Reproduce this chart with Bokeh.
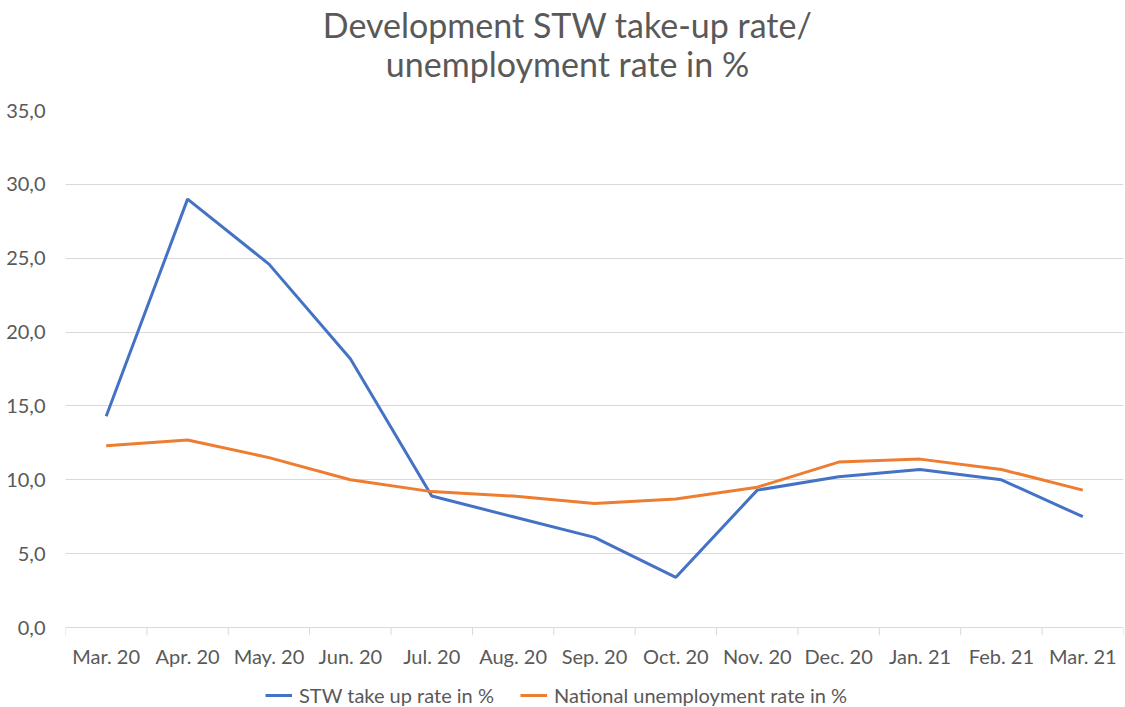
from bokeh.plotting import figure
from bokeh.layouts import column
from bokeh.models import (Range1d, LinearAxis, FixedTicker, Legend, LegendItem)
from bokeh.core.properties import value
from bokeh.embed import file_html
from bokeh.resources import INLINE

title_lines = ["Development STW take-up rate/", "unemployment rate in %"]
months = ["Mar. 20", "Apr. 20", "May. 20", "Jun. 20", "Jul. 20", "Aug. 20", "Sep. 20",
          "Oct. 20", "Nov. 20", "Dec. 20", "Jan. 21", "Feb. 21", "Mar. 21"]
stw_rate = [14.3, 29.0, 24.6, 18.2, 8.9, 7.5, 6.1, 3.4, 9.3, 10.2, 10.7, 10.0, 7.5]
unemployment_rate = [12.3, 12.7, 11.5, 10.0, 9.2, 8.9, 8.4, 8.7, 9.5, 11.2, 11.4, 10.7, 9.3]
y_ticks = [0, 5, 10, 15, 20, 25, 30, 35]
y_tick_labels = ["0,0", "5,0", "10,0", "15,0", "20,0", "25,0", "30,0", "35,0"]
series_names = ["STW take up rate in %", "National unemployment rate in %"]

FONT = "Lato"
TXT = "#595959"
GRID = "#D9D9D9"
BLUE = "#4472C4"
ORANGE = "#ED7D31"

n = len(months)
xs = [i + 0.5 for i in range(n)]
bounds = list(range(n + 1))
TICK_LEN = 0.54  # in data units (~8px below the zero line)

W = 1125
H_TITLE = 100
H_MAIN = 572
H_LEG = 35
FRAME_L, FRAME_R = 65, 1123


def strip(height, xr, yr):
    f = figure(width=W, height=height, output_backend="svg", toolbar_location=None,
               x_range=xr, y_range=yr, x_axis_location=None, y_axis_location=None,
               min_border_left=0, min_border_right=0, min_border_top=0, min_border_bottom=0)
    f.outline_line_color = None
    f.xgrid.grid_line_color = None
    f.ygrid.grid_line_color = None
    return f


# ---- title strip (its frame is aligned with the chart frame; pixel-scaled x range) ----
pt = strip(H_TITLE, Range1d(FRAME_L, FRAME_R), Range1d(0, H_TITLE))
pt.text(x=[567, 567], y=[76.5, 37.5], text=title_lines,
        text_font=value(FONT), text_font_size="34px", text_color=TXT,
        text_align="center", text_baseline="alphabetic")

# ---- main chart ----
p = figure(width=W, height=H_MAIN, output_backend="svg", toolbar_location=None,
           x_range=Range1d(0, n), y_range=Range1d(-TICK_LEN, 35),
           x_axis_location=None, y_axis_location=None,
           min_border_left=FRAME_L, min_border_right=W - FRAME_R,
           min_border_top=10, min_border_bottom=37)
p.outline_line_color = None
p.background_fill_color = "white"
p.border_fill_color = "white"

yaxis = LinearAxis(ticker=FixedTicker(ticks=y_ticks),
                   major_label_overrides={t: l for t, l in zip(y_ticks, y_tick_labels)})
yaxis.axis_line_color = None
yaxis.major_tick_line_color = None
yaxis.major_tick_in = 0
yaxis.major_tick_out = 0
yaxis.minor_tick_line_color = None
yaxis.major_label_text_font = FONT
yaxis.major_label_text_font_size = "20px"
yaxis.major_label_text_color = TXT
yaxis.major_label_standoff = 20
p.add_layout(yaxis, "left")

xaxis_lab = LinearAxis(ticker=FixedTicker(ticks=xs),
                       major_label_overrides={x: m for x, m in zip(xs, months)})
xaxis_lab.axis_line_color = None
xaxis_lab.major_tick_line_color = None
xaxis_lab.major_tick_in = 0
xaxis_lab.major_tick_out = 0
xaxis_lab.minor_tick_line_color = None
xaxis_lab.major_label_text_font = FONT
xaxis_lab.major_label_text_font_size = "20px"
xaxis_lab.major_label_text_color = TXT
xaxis_lab.major_label_standoff = 8
p.add_layout(xaxis_lab, "below")

p.ygrid.ticker = FixedTicker(ticks=y_ticks)
p.ygrid.grid_line_color = GRID
p.ygrid.grid_line_width = 1
p.xgrid.grid_line_color = None

# category boundary ticks below the zero line
p.segment(x0=bounds, y0=[0] * len(bounds), x1=bounds, y1=[-TICK_LEN] * len(bounds),
          line_color=GRID, line_width=1)

p.line(xs, stw_rate, line_color=BLUE, line_width=3)
p.line(xs, unemployment_rate, line_color=ORANGE, line_width=3)

# ---- legend strip (series drawn outside its visible range; only swatches show) ----
pl = strip(H_LEG, Range1d(-2, -1), Range1d(-2, -1))
lr1 = pl.line(xs, stw_rate, line_color=BLUE, line_width=3)
lr2 = pl.line(xs, unemployment_rate, line_color=ORANGE, line_width=3)
legend = Legend(items=[LegendItem(label=series_names[0], renderers=[lr1]),
                       LegendItem(label=series_names[1], renderers=[lr2])],
                orientation="horizontal", location=(200, 0))
legend.border_line_color = None
legend.background_fill_alpha = 0
legend.label_text_font = FONT
legend.label_text_font_size = "20px"
legend.label_text_color = TXT
legend.glyph_width = 27
legend.label_standoff = 7
legend.spacing = 26
legend.padding = 0
legend.margin = 0
pl.add_layout(legend, "center")

layout = column(pt, p, pl, spacing=0)
open("out.html", "w").write(file_html(layout, INLINE))
